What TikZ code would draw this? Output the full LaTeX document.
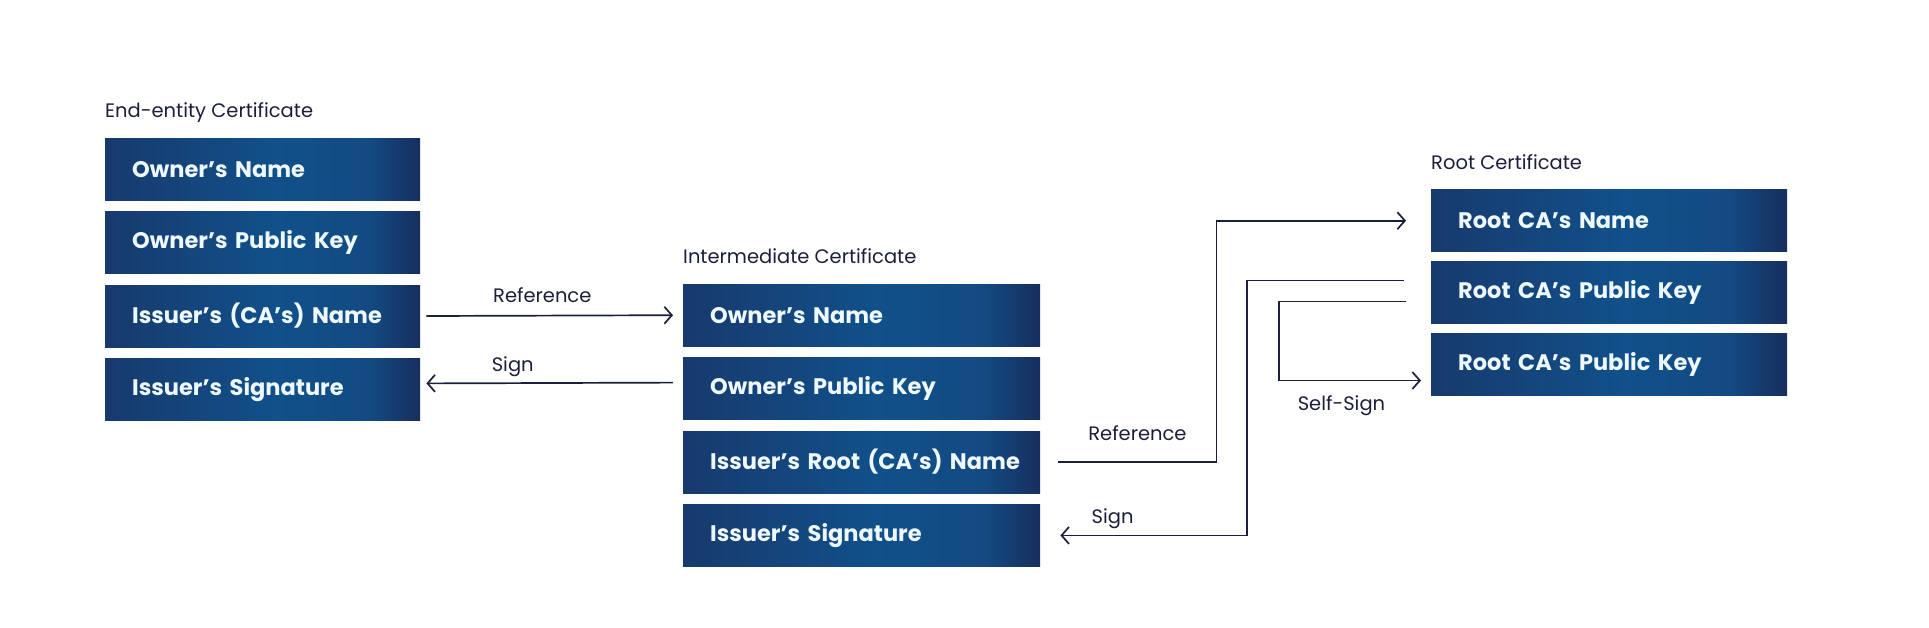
\documentclass[tikz,border=0pt]{standalone}
\usepackage{fontspec}
\setmainfont{Poppins}
\usetikzlibrary{arrows.meta, positioning}

\definecolor{navydark}{HTML}{173A6D}
\definecolor{navymid}{HTML}{11508A}
\definecolor{navylate}{HTML}{134A82}
\definecolor{navyedge}{HTML}{172E5E}
\definecolor{inkline}{HTML}{1C1F3A}
\definecolor{boxtext}{HTML}{EEF8FF}

\pgfdeclarehorizontalshading{certshade}{100bp}{color(0bp)=(navydark); color(25bp)=(navydark); color(52bp)=(navymid); color(67bp)=(navylate); color(75bp)=(navyedge); color(100bp)=(navyedge)}

\begin{document}
\begin{tikzpicture}[
    x=1pt, y=-1pt,
    node distance=11pt,
    certbox/.style={shading=certshade, text=boxtext, font=\fontsize{22.5}{26}\selectfont\bfseries, minimum height=62pt, inner xsep=27pt, inner ysep=0pt, align=left, text width=#1},
    titlelabel/.style={font=\fontsize{19.5}{23}\selectfont, text=inkline, inner sep=0pt, text depth=0pt},
    edgelabel/.style={titlelabel},
    arrow/.style={draw=inkline, line width=1.7pt, -{Straight Barb[length=7.5pt, width=17pt]}}
]
\useasboundingbox (0,0) rectangle (1929,627);

% end-entity certificate
\node[certbox=261pt, anchor=north west] (ee_name) at (105,138) {Owner’s Name};
\node[certbox=261pt, below=of ee_name] (ee_key) {Owner’s Public Key};
\node[certbox=261pt, below=of ee_key] (ee_issuer) {Issuer’s (CA’s) Name};
\node[certbox=261pt, below=of ee_issuer] (ee_sig) {Issuer’s Signature};
\node[titlelabel, above right=20pt and 0pt of ee_name.north west] (ee_label) {End-entity Certificate};

% intermediate certificate
\node[certbox=303pt, anchor=north west] (im_name) at (683,284) {Owner’s Name};
\node[certbox=303pt, below=of im_name] (im_key) {Owner’s Public Key};
\node[certbox=303pt, below=of im_key] (im_issuer) {\mbox{Issuer’s Root (CA’s) Name}};
\node[certbox=303pt, below=of im_issuer] (im_sig) {Issuer’s Signature};
\node[titlelabel, above right=20pt and 0pt of im_name.north west] (im_label) {Intermediate Certificate};

% root certificate
\node[certbox=302pt, anchor=north west] (root_name) at (1431,189.5) {Root CA’s Name};
\node[certbox=302pt, below=9.5pt of root_name] (root_key) {Root CA’s Public Key};
\node[certbox=302pt, below=9.5pt of root_key] (root_self) {Root CA’s Public Key};
\node[titlelabel, above right=20pt and 0pt of root_name.north west] (root_label) {Root Certificate};

% links
\draw[arrow] ([xshift=6pt]ee_issuer.east) -- node[edgelabel, above=12pt, pos=0.47] {Reference} ([xshift=-10pt]im_name.west);
\draw[arrow] ([xshift=-10pt, yshift=6pt]im_key.west) -- node[edgelabel, above=11pt, pos=0.65] {Sign} ([xshift=6pt, yshift=6pt]ee_sig.east);
\draw[arrow] ([xshift=18pt]im_issuer.east) -- node[edgelabel, above=21pt] {Reference} ++(158,0) |- ([xshift=-25pt]root_name.west);
\draw[arrow] ([xshift=-27pt, yshift=12pt]root_key.west) -- ++(-157,0) |- node[edgelabel, above=11pt, pos=0.86] {Sign} ([xshift=20pt]im_sig.east);
\draw[arrow] ([xshift=-25pt, yshift=-9pt]root_key.west) -- ++(-127,0) |- node[edgelabel, below=14pt, pos=0.72] {Self-Sign} ([xshift=-10pt, yshift=-16pt]root_self.west);

\end{tikzpicture}
\end{document}
